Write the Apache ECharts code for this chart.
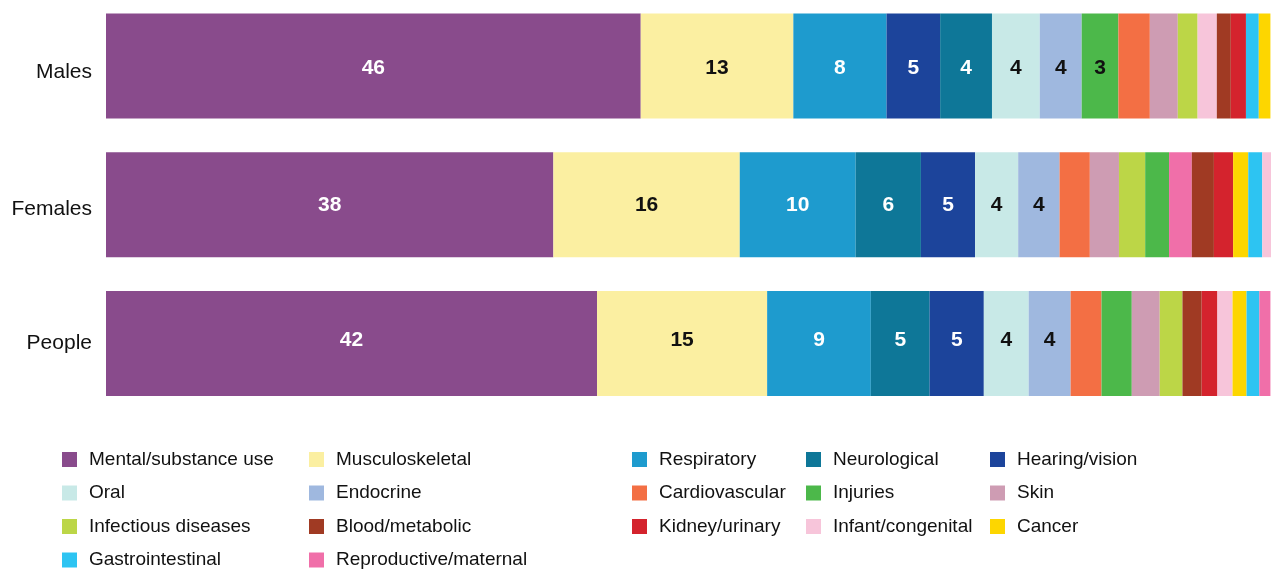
<!DOCTYPE html>
<html>
<head>
<meta charset="utf-8">
<script src="https://cdn.jsdelivr.net/npm/echarts/dist/echarts.min.js"></script>
<style>
html, body { margin: 0; padding: 0; background: #fff; }
#chart { width: 1271px; height: 572px; }
</style>
</head>
<body>
<div id="chart"></div>
<script>
// groups shown as bars (top to bottom)
var groups = ['Males', 'Females', 'People'];

// legend order (row by row)
var conditions = ['Mental/substance use', 'Musculoskeletal', 'Respiratory', 'Neurological', 'Hearing/vision',
	'Oral', 'Endocrine', 'Cardiovascular', 'Injuries', 'Skin',
	'Infectious diseases', 'Blood/metabolic', 'Kidney/urinary', 'Infant/congenital', 'Cancer',
	'Gastrointestinal', 'Reproductive/maternal'];

// each bar is drawn largest first, so every bar has its own order
var malesOrder = ['Mental/substance use', 'Musculoskeletal', 'Respiratory', 'Hearing/vision', 'Neurological',
	'Oral', 'Endocrine', 'Injuries', 'Cardiovascular', 'Skin', 'Infectious diseases', 'Infant/congenital',
	'Blood/metabolic', 'Kidney/urinary', 'Gastrointestinal', 'Cancer'];
var malesValues = [45.9, 13.1, 8.0, 4.6, 4.45, 4.1, 3.6, 3.15, 2.7, 2.4, 1.7, 1.65, 1.2, 1.3, 1.1, 1.0];

var femalesOrder = ['Mental/substance use', 'Musculoskeletal', 'Respiratory', 'Neurological', 'Hearing/vision',
	'Oral', 'Endocrine', 'Cardiovascular', 'Skin', 'Infectious diseases', 'Injuries', 'Reproductive/maternal',
	'Blood/metabolic', 'Kidney/urinary', 'Cancer', 'Gastrointestinal', 'Infant/congenital'];
var femalesValues = [38.4, 16.0, 9.95, 5.6, 4.65, 3.7, 3.55, 2.6, 2.5, 2.25, 2.05, 1.95, 1.9, 1.65, 1.3, 1.2, 0.75];

var peopleOrder = ['Mental/substance use', 'Musculoskeletal', 'Respiratory', 'Neurological', 'Hearing/vision',
	'Oral', 'Endocrine', 'Cardiovascular', 'Injuries', 'Skin', 'Infectious diseases', 'Blood/metabolic',
	'Kidney/urinary', 'Infant/congenital', 'Cancer', 'Gastrointestinal', 'Reproductive/maternal'];
var peopleValues = [42.15, 14.6, 8.9, 5.05, 4.65, 3.85, 3.6, 2.65, 2.6, 2.4, 1.95, 1.65, 1.35, 1.3, 1.2, 1.1, 0.95];

var colors = {
	'Mental/substance use': '#894b8c',
	'Musculoskeletal': '#fbefa1',
	'Respiratory': '#1e9bce',
	'Neurological': '#0e7798',
	'Hearing/vision': '#1c449b',
	'Oral': '#c8e9e7',
	'Endocrine': '#9fb8df',
	'Cardiovascular': '#f36f44',
	'Injuries': '#4cb84a',
	'Skin': '#ce9cb3',
	'Infectious diseases': '#bcd647',
	'Blood/metabolic': '#a03a23',
	'Kidney/urinary': '#d4232d',
	'Infant/congenital': '#f7c5da',
	'Cancer': '#fdd600',
	'Gastrointestinal': '#2dc4f2',
	'Reproductive/maternal': '#f06fa9'
};
var darkOnes = ['Mental/substance use', 'Respiratory', 'Neurological', 'Hearing/vision'];

// small vertical nudges of the texts, per bar (px)
var valueLabelNudge = [2, 0, -3];
var groupLabelPad = [12, 8, 0];

var FONT = '"Liberation Sans", Arial, Helvetica, sans-serif';

var chart = echarts.init(document.getElementById('chart'));

var bars = [
	{ order: malesOrder, values: malesValues },
	{ order: femalesOrder, values: femalesValues },
	{ order: peopleOrder, values: peopleValues }
];

var series = [];
var slots = 0;
bars.forEach(function(b) { slots = Math.max(slots, b.order.length); });

// one series per position in the stack
for (var i = 0; i < slots; i++) {
	var data = bars.map(function(b, bi) {
		if (i >= b.order.length) {
			return { value: 0, label: { show: false } };
		}
		var name = b.order[i];
		return {
			value: b.values[i],
			name: name,
			itemStyle: { color: colors[name] },
			label: {
				color: darkOnes.indexOf(name) >= 0 ? '#ffffff' : '#111111',
				offset: [0, valueLabelNudge[bi]]
			}
		};
	});
	series.push({
		name: 'slot' + i,
		type: 'bar',
		stack: 'all',
		barWidth: 105,
		silent: true,
		data: data,
		label: {
			show: true,
			position: 'inside',
			fontFamily: FONT,
			fontSize: 21,
			fontWeight: 'bold',
			formatter: function(p) {
				return p.value >= 3 ? Math.round(p.value) : '';
			}
		}
	});
}

// empty series only to feed the legend
conditions.forEach(function(c) {
	series.push({
		name: c,
		type: 'bar',
		stack: 'all',
		barWidth: 105,
		itemStyle: { color: colors[c] },
		data: []
	});
});

var colLeft = [62, 309, 632, 806, 990];
var legends = colLeft.map(function(x, col) {
	var items = [];
	for (var k = col; k < conditions.length; k += 5) {
		items.push(conditions[k]);
	}
	return {
		data: items,
		orient: 'vertical',
		left: x,
		top: 450,
		icon: 'rect',
		itemWidth: 15,
		itemHeight: 15,
		itemGap: 14.5,
		selectedMode: false,
		padding: 0,
		textStyle: {
			fontFamily: FONT,
			fontSize: 19,
			lineHeight: 19,
			color: '#111111',
			padding: [0, 0, 0, 7]
		}
	};
});

var groupRich = {};
groupLabelPad.forEach(function(p, gi) {
	groupRich['g' + gi] = {
		fontFamily: FONT,
		fontSize: 21,
		color: '#111111',
		padding: [p, 0, 0, 0]
	};
});

var option = {
	animation: false,
	// category centres sit on the grid edges (boundaryGap false)
	grid: {
		left: 106,
		right: 0,
		top: 66,
		height: 277.5
	},
	xAxis: {
		type: 'value',
		min: 0,
		max: 100,
		show: false
	},
	yAxis: {
		type: 'category',
		inverse: true,
		boundaryGap: false,
		data: groups,
		axisLine: { show: false },
		axisTick: { show: false },
		splitLine: { show: false },
		axisLabel: {
			margin: 14,
			fontFamily: FONT,
			fontSize: 21,
			color: '#111111',
			formatter: function(value, index) {
				return '{g' + index + '|' + value + '}';
			},
			rich: groupRich
		}
	},
	legend: legends,
	series: series
};
chart.setOption(option);
</script>
</body>
</html>
